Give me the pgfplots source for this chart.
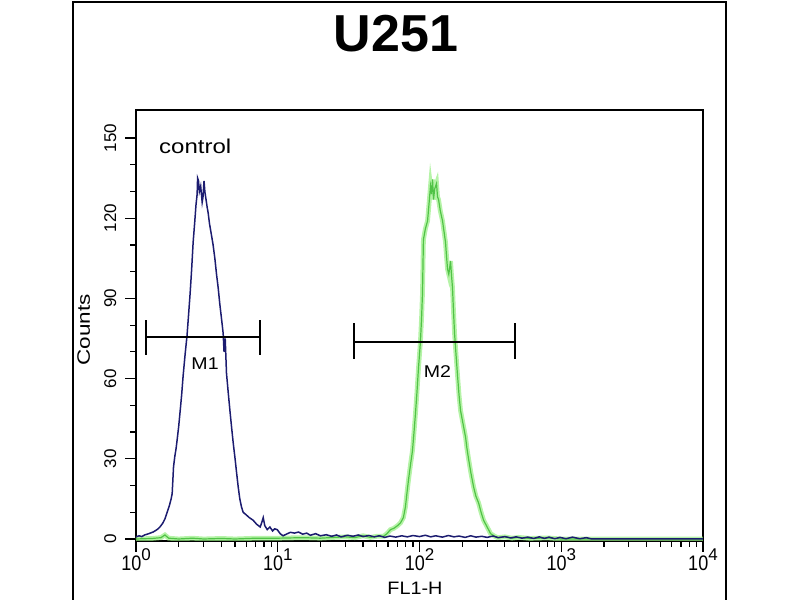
\documentclass[border=0pt]{standalone}
\usepackage{pgfplots}
\pgfplotsset{compat=1.18}
\usepackage{fontspec}
\setmainfont{Liberation Sans}
\definecolor{ctrlblue}{RGB}{28,28,112}
\definecolor{glowgreen}{RGB}{150,238,130}
\definecolor{linegreen}{RGB}{80,195,70}
\newcommand\pw[1]{\scalebox{0.9}[1.05]{10}\raisebox{5pt}{\fontsize{8.5}{8.5}\selectfont #1}}

\begin{document}
\begin{tikzpicture}
\useasboundingbox (0,0) rectangle (400pt,300pt);
\draw[line width=1pt] (36.5pt,0) -- (36.5pt,299pt) -- (363pt,299pt) -- (363pt,0);
\node[font=\fontsize{26}{30}\selectfont\bfseries, anchor=base] at (198pt,274pt) {U251};
\node[font=\fontsize{9}{10}\selectfont, rotate=90, anchor=base] at (45pt,135pt) {\scalebox{1.25}[1]{Counts}};
\node[font=\fontsize{9}{10}\selectfont, anchor=base] at (207.5pt,2.5pt) {\scalebox{1.1}[1]{FL1-H}};
\begin{axis}[
at={(68pt,29.5pt)}, anchor=south west,
scale only axis, width=283.5pt, height=215.5pt,
xmode=log, xmin=1, xmax=10000, ymin=-0.75, ymax=160.5,
xtick={1,10,100,1000,10000},
xticklabels={\pw{0},\pw{1},\pw{2},\pw{3},\pw{4}},
minor xtick={2,3,...,9,20,30,...,90,200,300,...,900,2000,3000,...,9000},
ytick={0,30,...,150}, minor y tick num=2,
tick align=outside, xtick pos=left, ytick pos=left,
major tick length=5.5pt, minor tick length=3pt,
axis line style={line width=0.8pt},
every tick/.style={black, line width=0.6pt},
xticklabel style={font=\fontsize{10}{11}\selectfont, inner sep=0pt, anchor=north, yshift=2pt},
yticklabel shift=4.5pt,
yticklabel style={font=\fontsize{8.5}{9}\selectfont, rotate=90, anchor=base, inner sep=0pt},
/pgf/number format/assume math mode=true,
]
% fluorescence histogram, stained sample
\addplot[glowgreen, line width=2.4pt, opacity=0.7] coordinates {
(1,0)(1.3,0.2)(1.5,0.5)(1.6,1.5)(1.7,0.3)(2,0)(2.5,0.3)(3,0)(4,0.2)(5,0)(7,0.3)(10,0.3)
(15,0.5)(20,0.3)(25,0.6)(30,0.8)(35,0.5)(40,1.2)(45,0.6)(50,1)(55.7,1)(59,2)(62.4,3.5)
(66,4)(70,5)(73.4,6)(77,8)(79.6,12)(81.5,17)(83.6,22)(86,27)(89.2,33)(91.5,40)(93.7,47)
(96,55)(98.4,64)(101.6,74)(103.5,83)(105,92)(106.6,112)(110,116)(114,119)(117,126)
(119.6,132)(121.5,129)(123.6,134.5)(125.6,127)(128,131)(131.9,133)(134,128)(136.3,127)
(140,123)(145.4,119)(149,115)(152.6,111)(155,106)(157.7,101)(161,99)(165.6,104)(168,99)
(171,94)(173.5,86)(176.7,77)(181,69)(185.6,61)(190,54)(194.9,48)(203,43)(211.5,38)
(216,34)(221.9,30)(230,25)(240.8,19.5)(250,16)(261.2,13.5)(272,10)(283.3,7)(300,4.5)
(317.5,2)(335,1.2)(355.9,0.5)(400,0.8)(450,0.3)(500,0.6)(600,0.2)(800,0.4)(1000,0)(10000,0)};
\addplot[linegreen, line width=0.6pt] coordinates {
(1,0)(1.3,0.2)(1.5,0.5)(1.6,1.5)(1.7,0.3)(2,0)(2.5,0.3)(3,0)(4,0.2)(5,0)(7,0.3)(10,0.3)
(15,0.5)(20,0.3)(25,0.6)(30,0.8)(35,0.5)(40,1.2)(45,0.6)(50,1)(55.7,1)(59,2)(62.4,3.5)
(66,4)(70,5)(73.4,6)(77,8)(79.6,12)(81.5,17)(83.6,22)(86,27)(89.2,33)(91.5,40)(93.7,47)
(96,55)(98.4,64)(101.6,74)(103.5,83)(105,92)(106.6,112)(110,116)(114,119)(117,126)
(119.6,132)(121.5,129)(123.6,134.5)(125.6,127)(128,131)(131.9,133)(134,128)(136.3,127)
(140,123)(145.4,119)(149,115)(152.6,111)(155,106)(157.7,101)(161,99)(165.6,104)(168,99)
(171,94)(173.5,86)(176.7,77)(181,69)(185.6,61)(190,54)(194.9,48)(203,43)(211.5,38)
(216,34)(221.9,30)(230,25)(240.8,19.5)(250,16)(261.2,13.5)(272,10)(283.3,7)(300,4.5)
(317.5,2)(335,1.2)(355.9,0.5)(400,0.8)(450,0.3)(500,0.6)(600,0.2)(800,0.4)(1000,0)(10000,0)};
% control histogram
\addplot[ctrlblue, line width=0.75pt] coordinates {
(1.00,0.8)(1.05,1.2)(1.10,0.9)(1.15,1.5)(1.20,1.8)(1.26,2.2)(1.32,2.6)(1.38,3.2)(1.43,3.8)
(1.48,4.6)(1.54,5.8)(1.60,7.5)(1.66,10)(1.72,12.5)(1.77,15)(1.80,17)(1.82,22)(1.84,27)
(1.88,31)(1.92,34)(1.95,37)(2.00,42)(2.05,48)(2.10,54)(2.15,61)(2.22,69)(2.29,76)(2.35,84)
(2.41,92)(2.47,101)(2.53,111)(2.60,119)(2.65,125)(2.70,129)(2.72,135)(2.76,134)(2.80,130)
(2.86,132)(2.93,126)(2.97,128)(3.02,134)(3.06,130)(3.12,127)(3.18,124)(3.23,122)(3.30,118)
(3.40,114)(3.50,110)(3.60,105)(3.70,99)(3.80,94)(3.90,88)(4.00,83)(4.12,77)(4.18,70)
(4.26,75)(4.35,62)(4.47,55)(4.60,48)(4.72,42)(4.85,36)(5.00,30)(5.12,25)(5.26,19.5)
(5.40,15)(5.55,12)(5.70,10)(6.00,9)(6.30,8)(6.71,7)(7.10,5.5)(7.52,4.5)(7.70,6)(7.90,8)
(8.10,5)(8.43,3.5)(8.80,4.5)(9.20,3)(9.50,3.8)(9.92,3.5)(10.4,2)(10.9,1.2)(11.5,1.8)
(12.3,2.5)(13.1,2.2)(14,2.6)(15,1.8)(16,2.2)(17,1.4)(18.5,2.0)(20,1.2)(22,1.6)(24,1.0)
(26,1.5)(28,0.8)(31,1.4)(34,1.0)(37,1.5)(40,0.9)(44,1.3)(48,0.8)(52,1.2)(57,0.6)(62,1.1)
(68,0.7)(75,1.2)(82,0.8)(90,1.3)(100,0.9)(110,1.4)(120,0.8)(130,1.2)(145,0.7)(160,1.3)
(175,0.8)(190,1.1)(210,0.6)(230,1.2)(250,0.7)(275,1.0)(300,0.6)(330,1.1)(360,0.5)(400,0.9)
(440,0.4)(480,0.8)(530,0.3)(580,0.7)(640,0.2)(700,0.8)(760,0.2)(820,0.7)(900,0.1)(980,0.6)
(1080,0.1)(1200,0.7)(1350,0.1)(1500,0.5)(1650,0)(10000,0)};
% gate markers
\addplot[black, line width=0.9pt] coordinates {(1.177,75.6)(7.52,75.6)};
\addplot[black, line width=0.9pt] coordinates {(1.177,81.9)(1.177,68.8)};
\addplot[black, line width=0.9pt] coordinates {(7.52,81.9)(7.52,68.8)};
\addplot[black, line width=0.9pt] coordinates {(34.3,73.8)(471,73.8)};
\addplot[black, line width=0.9pt] coordinates {(34.3,80.8)(34.3,67.3)};
\addplot[black, line width=0.9pt] coordinates {(471,80.8)(471,67.3)};
\node[font=\fontsize{8.5}{9}\selectfont] at (axis cs:3.07,65.5) {\scalebox{1.15}[1]{M1}};
\node[font=\fontsize{8.5}{9}\selectfont] at (axis cs:134,62.5) {\scalebox{1.15}[1]{M2}};
\node[font=\fontsize{10}{12}\selectfont, anchor=base west] at (axis cs:1.3,144.4) {\scalebox{1.2}[1]{control}};
\end{axis}
\end{tikzpicture}
\end{document}
